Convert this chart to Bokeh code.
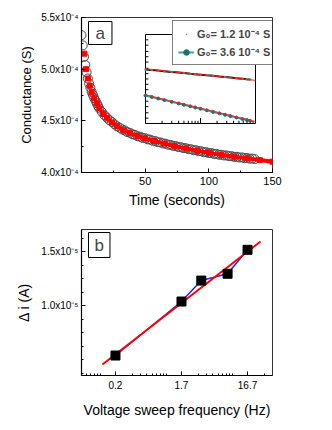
from bokeh.plotting import figure
from bokeh.layouts import column
from bokeh.models import (Range1d, LogScale, FixedTicker, CustomJSTickFormatter,
                          Legend, LegendItem, Label)
from bokeh.embed import file_html
from bokeh.resources import INLINE

FONT = "Liberation Sans"

# ---------------- panel a : conductance relaxation ----------------
time_s = [0, 1, 2, 3, 4, 5, 6, 7, 8, 9, 10, 11, 12, 13, 14, 16, 18, 20, 22, 24,
          26, 28, 30, 32, 34, 36, 38, 40, 42, 44, 46, 48, 50, 52, 54, 56, 58, 60,
          62, 64, 66, 68, 70, 72, 74, 76, 78, 80, 82, 84, 86, 88, 90, 92, 94, 96,
          98, 100, 102, 104, 106, 108, 110, 112, 114, 116, 118, 120, 122, 124,
          126, 128, 130, 132, 134, 136]
conductance_e4 = [5.33, 5.23, 5.12, 5.04, 4.97, 4.91, 4.86, 4.82, 4.78, 4.75,
                  4.72, 4.695, 4.67, 4.645, 4.62, 4.585, 4.555, 4.53, 4.505, 4.488,
                  4.465, 4.446, 4.434, 4.416, 4.407, 4.391, 4.384, 4.370, 4.364, 4.351,
                  4.347, 4.335, 4.332, 4.321, 4.318, 4.307, 4.304, 4.293, 4.291, 4.281,
                  4.279, 4.269, 4.267, 4.258, 4.256, 4.247, 4.245, 4.236, 4.235, 4.226,
                  4.225, 4.216, 4.215, 4.207, 4.206, 4.197, 4.197, 4.188, 4.188, 4.180,
                  4.180, 4.172, 4.172, 4.165, 4.165, 4.158, 4.158, 4.151, 4.152, 4.145,
                  4.146, 4.139, 4.140, 4.134, 4.135, 4.130]
fit_time_s = [2.3, 3.5, 5, 6.5, 8, 10, 12, 14, 17, 20, 24, 28, 33, 38, 44, 50,
              57, 65, 73, 82, 91, 100, 110, 120, 130, 140, 150]
fit_conductance_e4 = [5.15, 5.00, 4.91, 4.84, 4.78, 4.72, 4.67, 4.62, 4.57, 4.53,
                      4.485, 4.448, 4.41, 4.382, 4.353, 4.33, 4.305, 4.28, 4.257,
                      4.233, 4.21, 4.19, 4.17, 4.153, 4.138, 4.12, 4.105]
fit_line_from = 6   # the fit reads as a solid band from t = 12 s on
x_ticks_a = [50, 100, 150]
x_minor_a = [25, 75, 125]
y_ticks_a = [4.0, 4.5, 5.0, 5.5]
y_minor_a = [4.25, 4.75, 5.25]

# inset (log time, arbitrary units)
inset_time = [1, 1.3, 1.7, 2.2, 3, 4, 5, 6.5, 8, 10, 13, 17, 22, 28, 35, 45, 58, 70, 80]
inset_g1 = [0.607, 0.601, 0.594, 0.588, 0.579, 0.572, 0.566, 0.559, 0.554, 0.548,
            0.541, 0.535, 0.527, 0.521, 0.516, 0.509, 0.502, 0.497, 0.494]
inset_g2 = [0.315, 0.298, 0.281, 0.263, 0.243, 0.225, 0.210, 0.193, 0.180, 0.165,
            0.148, 0.130, 0.114, 0.098, 0.083, 0.067, 0.050, 0.038, 0.030]
inset_fit_time = [1, 100]
inset_fit_g1 = [0.612, 0.485]
inset_fit_g2 = [0.322, 0.022]
inset_x_bounds = [1, 100]
inset_y_bounds = [0, 1]
inset_x_ticks = [2, 3, 4, 5, 6, 7, 8, 9, 20, 30, 40, 50, 60, 70, 80, 90]
inset_x_major = [10]
inset_y_ticks = [0.06, 0.12, 0.19, 0.25, 0.31, 0.38, 0.44, 0.5, 0.56, 0.62,
                 0.69, 0.75, 0.81, 0.88, 0.94]
legend_labels = ["G\u2080= 1.2 10\u207b\u2074 S", "G\u2080= 3.6 10\u207b\u2074 S"]

# ---------------- panel b : delta i vs sweep frequency ----------------
freq_hz = [0.167, 1.67, 3.33, 8.33, 16.7]
delta_i_e5 = [0.537, 1.037, 1.231, 1.294, 1.516]
fit_freq_hz = [0.106, 26.3]
fit_delta_i_e5 = [0.454, 1.593]
x_ticks_b = [0.167, 1.67, 16.7]
x_tick_labels_b = ["0.2", "1.7", "16.7"]
x_minor_b = [0.06, 0.07, 0.08, 0.09, 0.1, 0.3, 0.4, 0.5, 0.6, 0.7, 0.8, 0.9, 1,
             3, 4, 5, 6, 7, 8, 9, 10, 30]
y_ticks_b = [1.0, 1.5]
y_minor_b = [0.375, 0.5, 0.625, 0.75, 0.875, 1.125, 1.25, 1.375, 1.625]


def style(p, tick_size_x, tick_size_y, label_size):
    p.xgrid.visible = False
    p.ygrid.visible = False
    p.outline_line_color = "#333333"
    p.outline_line_width = 1
    p.background_fill_color = "white"
    p.border_fill_color = "white"
    for ax, ts in ((p.xaxis[0], tick_size_x), (p.yaxis[0], tick_size_y)):
        ax.axis_line_color = "black"
        ax.axis_line_width = 1.2
        ax.major_tick_in = 4
        ax.major_tick_out = 0
        ax.minor_tick_in = 2
        ax.minor_tick_out = 0
        ax.major_tick_line_color = "black"
        ax.minor_tick_line_color = "black"
        ax.major_label_text_font = FONT
        ax.major_label_text_font_size = ts
        ax.major_label_text_color = "black"
        ax.axis_label_text_font = FONT
        ax.axis_label_text_font_style = "normal"
        ax.axis_label_text_font_size = label_size
        ax.axis_label_text_color = "black"


# ---------------- figure a ----------------
p1 = figure(width=324, height=214, x_range=(0, 150), y_range=(4.0, 5.5),
            output_backend="svg", toolbar_location=None,
            min_border_left=81, min_border_right=52, min_border_top=17, min_border_bottom=42)
style(p1, "11px", "10px", "14px")
p1.xaxis.axis_label = "Time (seconds)"
p1.yaxis.axis_label = "Conductance (S)"
p1.yaxis.axis_label_text_font_size = "13px"
p1.xaxis.ticker = FixedTicker(ticks=x_ticks_a, minor_ticks=x_minor_a)
p1.yaxis.ticker = FixedTicker(ticks=y_ticks_a, minor_ticks=y_minor_a)
p1.yaxis.formatter = CustomJSTickFormatter(code="return tick.toFixed(1) + 'x10\u207b\u2074';")
p1.xaxis.major_label_standoff = 4
p1.xaxis.axis_label_standoff = 4
p1.yaxis.major_label_standoff = 3
p1.yaxis.axis_label_standoff = 4

p1.scatter(time_s, conductance_e4, marker="circle", size=9, fill_color=None,
           line_color="#4a4a4a", line_width=1)
p1.line(fit_time_s[fit_line_from:], fit_conductance_e4[fit_line_from:],
        line_color="#ff0000", line_width=4)
p1.scatter(fit_time_s, fit_conductance_e4, marker="square", size=5,
           fill_color="#ff0000", line_color="#ff0000")

# inset drawn on its own (log-time) scale inside panel a
p1.extra_x_ranges = {"inset": Range1d(0.0686, 203.8)}
p1.extra_x_scales = {"inset": LogScale()}
p1.extra_y_ranges = {"inset": Range1d(-0.551, 1.191)}
ik = dict(x_range_name="inset", y_range_name="inset")
p1.quad(left=[inset_x_bounds[0]], right=[inset_x_bounds[1]],
        bottom=[inset_y_bounds[0]], top=[inset_y_bounds[1]],
        fill_color="white", line_color="black", line_width=1, **ik)
p1.segment(x0=[inset_x_bounds[0]] * len(inset_y_ticks), x1=[1.13] * len(inset_y_ticks),
           y0=inset_y_ticks, y1=inset_y_ticks, line_color="black", line_width=1, **ik)
p1.segment(x0=inset_x_ticks, x1=inset_x_ticks, y0=[0] * len(inset_x_ticks),
           y1=[0.03] * len(inset_x_ticks), line_color="black", line_width=1, **ik)
p1.segment(x0=inset_x_major, x1=inset_x_major, y0=[0], y1=[0.06],
           line_color="black", line_width=1, **ik)
p1.line(inset_time, inset_g1, line_color="black", line_width=2, **ik)
r_g1 = p1.scatter(inset_time, inset_g1, marker="dot", size=10, fill_color="#888888",
                  line_color="#888888", **ik)
r_g2l = p1.line(inset_time, inset_g2, line_color="#33a6a6", line_width=2, **ik)
r_g2s = p1.scatter(inset_time, inset_g2, marker="circle", size=3, fill_color="#1f6f6f",
                   line_color="#1f6f6f", **ik)
p1.line(inset_fit_time, inset_fit_g1, line_color="#ff2020", line_width=1, **ik)
p1.line(inset_fit_time, inset_fit_g2, line_color="#ff2020", line_width=1, **ik)

legend = Legend(items=[LegendItem(label=legend_labels[0], renderers=[r_g1]),
                       LegendItem(label=legend_labels[1], renderers=[r_g2l, r_g2s])],
                location=(91, 107), margin=0, padding=5, spacing=3,
                glyph_width=16, glyph_height=14, label_height=14, label_standoff=3,
                label_text_font=FONT, label_text_font_style="bold",
                label_text_font_size="11px", border_line_color="black",
                border_line_width=1, background_fill_color="white", background_fill_alpha=1)
p1.add_layout(legend)

p1.add_layout(Label(x=7, y=128, x_units="screen", y_units="screen", text="a",
                    text_font=FONT, text_font_size="17px",
                    border_line_color="black", border_line_width=1,
                    background_fill_color="white",
                    padding=dict(left=7, right=7, top=2, bottom=2)))

# ---------------- figure b ----------------
p2 = figure(width=324, height=208, x_axis_type="log",
            x_range=(0.0511, 39.9), y_range=(0.352, 1.704),
            output_backend="svg", toolbar_location=None,
            min_border_left=81, min_border_right=52, min_border_top=15, min_border_bottom=47)
style(p2, "10px", "10px", "14px")
p2.xaxis.axis_label = "Voltage sweep frequency (Hz)"
p2.yaxis.axis_label = "\u0394 i (A)"
p2.xaxis.ticker = FixedTicker(ticks=x_ticks_b, minor_ticks=x_minor_b)
p2.xaxis.formatter = CustomJSTickFormatter(
    args=dict(vals=x_ticks_b, labs=x_tick_labels_b),
    code="for (let i = 0; i < vals.length; i++) { if (Math.abs(vals[i] - tick) < 1e-6 * vals[i]) return labs[i]; } return '';")
p2.yaxis.ticker = FixedTicker(ticks=y_ticks_b, minor_ticks=y_minor_b)
p2.yaxis.formatter = CustomJSTickFormatter(code="return tick.toFixed(1) + 'x10\u207b\u2075';")
p2.xaxis.major_label_standoff = 5
p2.xaxis.axis_label_standoff = 10
p2.yaxis.major_label_standoff = 3
p2.yaxis.axis_label_standoff = 6

p2.line(freq_hz, delta_i_e5, line_color="#2020ff", line_width=1.5)
p2.line(fit_freq_hz, fit_delta_i_e5, line_color="#ff0000", line_width=2)
p2.scatter(freq_hz, delta_i_e5, marker="square", size=9, fill_color="black",
           line_color="black")

p2.add_layout(Label(x=7, y=118, x_units="screen", y_units="screen", text="b",
                    text_font=FONT, text_font_size="17px",
                    border_line_color="black", border_line_width=1,
                    background_fill_color="white",
                    padding=dict(left=6, right=6, top=3, bottom=3)))

layout = column(p1, p2, spacing=0)
open("out.html", "w").write(file_html(layout, INLINE))
